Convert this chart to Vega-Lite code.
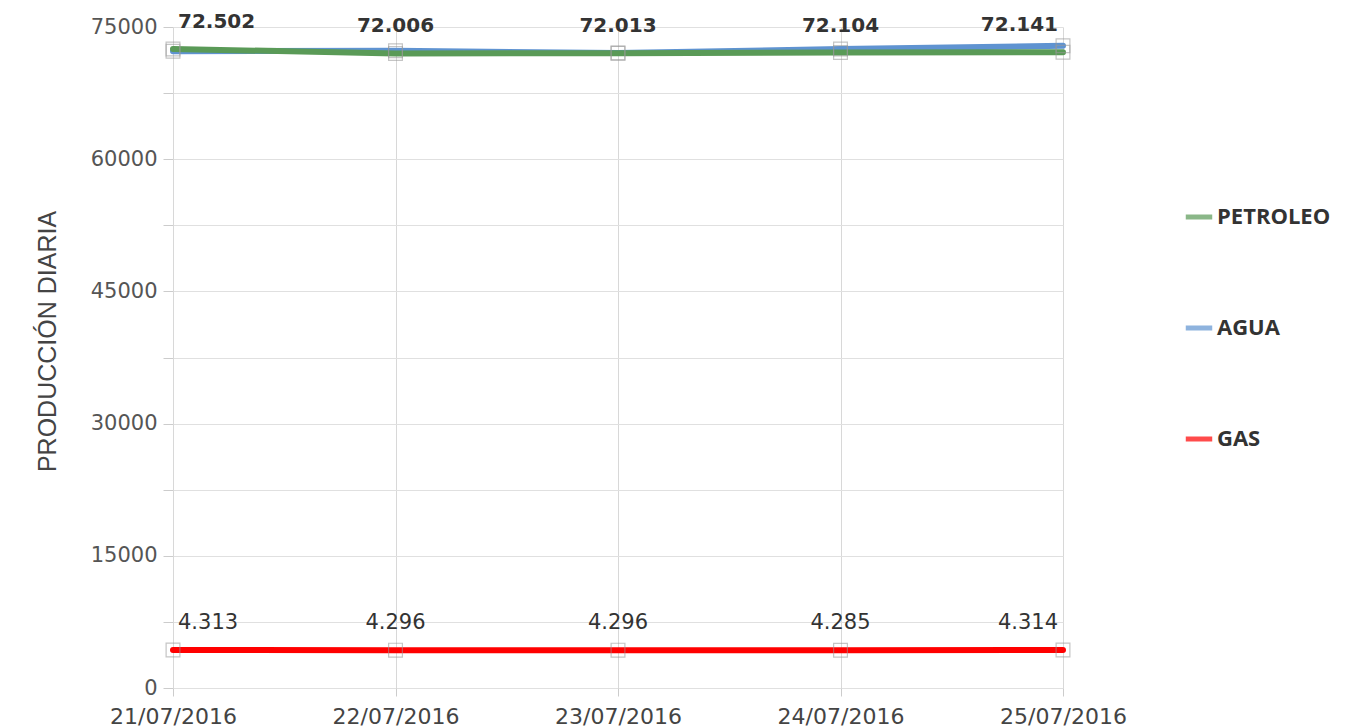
{
  "$schema": "https://vega.github.io/schema/vega-lite/v6.json",
  "autosize": "none",
  "width": 890,
  "height": 661,
  "padding": {"left": 173, "top": 27, "right": 305, "bottom": 39},
  "background": "white",
  "config": {
    "locale": {"number": {"decimal": ",", "thousands": ".", "grouping": [3], "currency": ["$", ""]}},
    "view": {"stroke": null},
    "font": "DejaVu Sans"
  },
  "data": {
    "values": [
      {"fecha": "21/07/2016", "serie": "GAS", "valor": 4313},
      {"fecha": "22/07/2016", "serie": "GAS", "valor": 4296},
      {"fecha": "23/07/2016", "serie": "GAS", "valor": 4296},
      {"fecha": "24/07/2016", "serie": "GAS", "valor": 4285},
      {"fecha": "25/07/2016", "serie": "GAS", "valor": 4314},
      {"fecha": "21/07/2016", "serie": "AGUA", "valor": 72250},
      {"fecha": "22/07/2016", "serie": "AGUA", "valor": 72300},
      {"fecha": "23/07/2016", "serie": "AGUA", "valor": 72050},
      {"fecha": "24/07/2016", "serie": "AGUA", "valor": 72500},
      {"fecha": "25/07/2016", "serie": "AGUA", "valor": 72866},
      {"fecha": "21/07/2016", "serie": "PETROLEO", "valor": 72502},
      {"fecha": "22/07/2016", "serie": "PETROLEO", "valor": 72006},
      {"fecha": "23/07/2016", "serie": "PETROLEO", "valor": 72013},
      {"fecha": "24/07/2016", "serie": "PETROLEO", "valor": 72104},
      {"fecha": "25/07/2016", "serie": "PETROLEO", "valor": 72141}
    ]
  },
  "encoding": {
    "x": {
      "field": "fecha",
      "type": "ordinal",
      "sort": null,
      "scale": {"type": "point", "padding": 0},
      "axis": {
        "title": null,
        "labelAngle": 0,
        "labelFont": "DejaVu Sans",
        "labelFontSize": 22,
        "labelColor": "#444",
        "labelPadding": 10,
        "grid": true,
        "gridColor": "#d8d8d8",
        "domain": false,
        "tickColor": "#ccc",
        "tickSize": 8
      }
    },
    "y": {
      "field": "valor",
      "type": "quantitative",
      "scale": {"domain": [0, 75000], "nice": false, "zero": true},
      "axis": {
        "title": "PRODUCCIÓN DIARIA",
        "titleFont": "Liberation Sans",
        "titleFontSize": 25,
        "titleFontWeight": "normal",
        "titleColor": "#444",
        "titlePadding": 30,
        "titleY": 314,
        "values": [0, 7500, 15000, 22500, 30000, 37500, 45000, 52500, 60000, 67500, 75000],
        "labelExpr": "datum.value % 15000 === 0 ? format(datum.value, 'd') : ''",
        "labelFont": "DejaVu Sans",
        "labelFontSize": 21,
        "labelColor": "#555",
        "labelPadding": 6,
        "gridColor": "#e0e0e0",
        "domainColor": "#d8d8d8",
        "tickColor": "#ccc",
        "tickSize": 10
      }
    },
    "color": {
      "field": "serie",
      "type": "nominal",
      "scale": {"domain": ["PETROLEO", "AGUA", "GAS"], "range": ["#5a9a57", "#5f93d1", "#ff0000"]},
      "legend": {
        "title": null,
        "orient": "none",
        "legendX": 1010,
        "legendY": 174,
        "symbolType": "stroke",
        "symbolStrokeWidth": 5,
        "symbolSize": 700,
        "labelFont": "Open Sans",
        "labelFontWeight": "bold",
        "labelFontSize": 22,
        "labelColor": "#333",
        "labelOffset": 2,
        "rowPadding": 84
      }
    }
  },
  "layer": [
    {
      "mark": {"type": "line", "strokeWidth": 6, "strokeCap": "round"}
    },
    {
      "mark": {"type": "point", "shape": "square", "size": 190, "filled": false, "stroke": "#999", "strokeWidth": 1.2, "strokeOpacity": 0.8}
    },
    {
      "transform": [{"filter": "datum.serie === 'PETROLEO' && datum.fecha !== '21/07/2016' && datum.fecha !== '25/07/2016'"}],
      "mark": {"type": "text", "dy": -27, "align": "center", "font": "DejaVu Sans", "fontWeight": "bold", "fontSize": 20, "color": "#333"},
      "encoding": {"text": {"field": "valor", "type": "quantitative", "format": ",d"}, "color": {"value": "#333"}}
    },
    {
      "transform": [{"filter": "datum.serie === 'PETROLEO' && datum.fecha === '21/07/2016'"}],
      "mark": {"type": "text", "dy": -27, "dx": 5, "align": "left", "font": "DejaVu Sans", "fontWeight": "bold", "fontSize": 20, "color": "#333"},
      "encoding": {"text": {"field": "valor", "type": "quantitative", "format": ",d"}, "color": {"value": "#333"}}
    },
    {
      "transform": [{"filter": "datum.serie === 'PETROLEO' && datum.fecha === '25/07/2016'"}],
      "mark": {"type": "text", "dy": -27, "dx": -5, "align": "right", "font": "DejaVu Sans", "fontWeight": "bold", "fontSize": 20, "color": "#333"},
      "encoding": {"text": {"field": "valor", "type": "quantitative", "format": ",d"}, "color": {"value": "#333"}}
    },
    {
      "transform": [{"filter": "datum.serie === 'GAS' && datum.fecha !== '21/07/2016' && datum.fecha !== '25/07/2016'"}],
      "mark": {"type": "text", "dy": -27, "align": "center", "font": "DejaVu Sans", "fontSize": 21, "color": "#333"},
      "encoding": {"text": {"field": "valor", "type": "quantitative", "format": ",d"}, "color": {"value": "#333"}}
    },
    {
      "transform": [{"filter": "datum.serie === 'GAS' && datum.fecha === '21/07/2016'"}],
      "mark": {"type": "text", "dy": -27, "dx": 5, "align": "left", "font": "DejaVu Sans", "fontSize": 21, "color": "#333"},
      "encoding": {"text": {"field": "valor", "type": "quantitative", "format": ",d"}, "color": {"value": "#333"}}
    },
    {
      "transform": [{"filter": "datum.serie === 'GAS' && datum.fecha === '25/07/2016'"}],
      "mark": {"type": "text", "dy": -27, "dx": -5, "align": "right", "font": "DejaVu Sans", "fontSize": 21, "color": "#333"},
      "encoding": {"text": {"field": "valor", "type": "quantitative", "format": ",d"}, "color": {"value": "#333"}}
    }
  ]
}
